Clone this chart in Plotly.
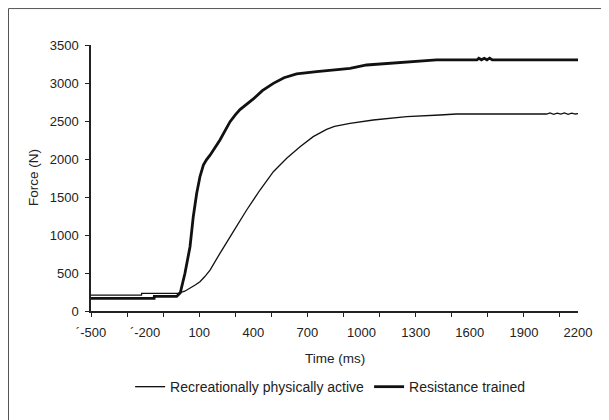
import plotly.graph_objects as go

# ---- data ----
time_rec = [-500, -220, -219, -20, 20, 49, 80, 104, 130, 160, 190, 215, 289, 363, 437, 511,
            585, 659, 732, 806, 850, 880, 936, 1065, 1250, 1434, 1526, 2026, 2045, 2065,
            2085, 2105, 2125, 2145, 2165, 2185, 2200]
force_rec = [210, 210, 232, 232, 260, 298, 345, 386, 450, 539, 650, 759, 1044, 1329, 1592, 1833,
             2009, 2162, 2294, 2390, 2430, 2447, 2470, 2513, 2557, 2579, 2592, 2592, 2606, 2588,
             2604, 2590, 2607, 2588, 2603, 2592, 2598]

time_rt = [-500, -150, -149, -25, -5, 21, 49, 67, 86, 104, 123, 140, 160, 190, 215, 245,
           271, 300, 326, 400, 450, 511, 570, 640, 700, 751, 880, 936, 1028, 1157, 1323,
           1416, 1640, 1650, 1665, 1680, 1695, 1710, 1725, 1740, 2200]
force_rt = [165, 165, 192, 192, 240, 496, 846, 1241, 1548, 1767, 1921, 1990, 2050, 2150, 2250, 2380,
            2491, 2580, 2650, 2790, 2900, 2995, 3070, 3120, 3140, 3150, 3180, 3193, 3237, 3259, 3280,
            3303, 3303, 3325, 3305, 3325, 3305, 3328, 3305, 3303, 3303]

series_names = ["Recreationally physically active", "Resistance trained"]

x_label_vals = [-500, -200, 100, 400, 700, 1000, 1300, 1600, 1900, 2200]
x_label_text = ["\u00b4-500", "\u00b4-200", "100", "400", "700", "1000", "1300", "1600", "1900", "2200"]
x_tick_marks = [-500, -300, -100, 100, 300, 500, 700, 900, 1100, 1300, 1500, 1700, 1900, 2100]
y_tick_vals = [0, 500, 1000, 1500, 2000, 2500, 3000, 3500]

FONT = "Liberation Sans, Arial, sans-serif"
INK = "#111111"
TXT = "#222222"

fig = go.Figure()
fig.add_trace(go.Scatter(x=time_rec, y=force_rec, mode="lines", name=series_names[0],
                         line=dict(color=INK, width=1.3)))
fig.add_trace(go.Scatter(x=time_rt, y=force_rt, mode="lines", name=series_names[1],
                         line=dict(color=INK, width=2.8)))

fig.update_layout(
    width=601, height=412,
    margin=dict(l=83, r=31, t=37, b=109),
    paper_bgcolor="white", plot_bgcolor="white",
    font=dict(family=FONT, size=13, color=TXT),
    showlegend=True,
    legend=dict(orientation="h", x=0.491, y=-0.286, xanchor="center", yanchor="middle",
                font=dict(size=14, color=TXT), bgcolor="rgba(0,0,0,0)",
                itemwidth=30, tracegroupgap=0),
    xaxis=dict(range=[-500, 2200], showgrid=False, zeroline=False,
               showline=True, linecolor=TXT, linewidth=1.5,
               tickmode="array", tickvals=x_label_vals, ticktext=x_label_text,
               ticks="outside", ticklen=4, tickcolor="rgba(0,0,0,0)",
               ticklabelstandoff=5,
               minor=dict(tickmode="array", tickvals=x_tick_marks, ticks="outside",
                          ticklen=4, tickwidth=1.3, tickcolor=TXT),
               tickfont=dict(size=13, color=TXT)),
    yaxis=dict(range=[0, 3500], showgrid=False, zeroline=False,
               showline=True, linecolor=TXT, linewidth=1.5,
               tickmode="array", tickvals=y_tick_vals,
               ticks="outside", ticklen=4, tickwidth=1.3, tickcolor=TXT,
               ticklabelstandoff=4,
               tickfont=dict(size=13, color=TXT)),
    annotations=[
        dict(text="Force (N)", xref="paper", yref="paper", x=-0.119, y=0.5,
             textangle=-90, showarrow=False, xanchor="center", yanchor="middle",
             font=dict(size=13.5, color=TXT)),
        dict(text="Time (ms)", xref="paper", yref="paper", x=0.5, y=-0.177,
             showarrow=False, xanchor="center", yanchor="middle",
             font=dict(size=13.5, color=TXT)),
    ],
    shapes=[
        dict(type="line", xref="paper", yref="paper", x0=-0.1694, x1=1.07, y0=1.137, y1=1.137,
             line=dict(color="#555555", width=1)),
        dict(type="line", xref="paper", yref="paper", x0=-0.1694, x1=-0.1694, y0=1.137, y1=-0.42,
             line=dict(color="#555555", width=1)),
    ],
)

fig.write_html("out.html")
